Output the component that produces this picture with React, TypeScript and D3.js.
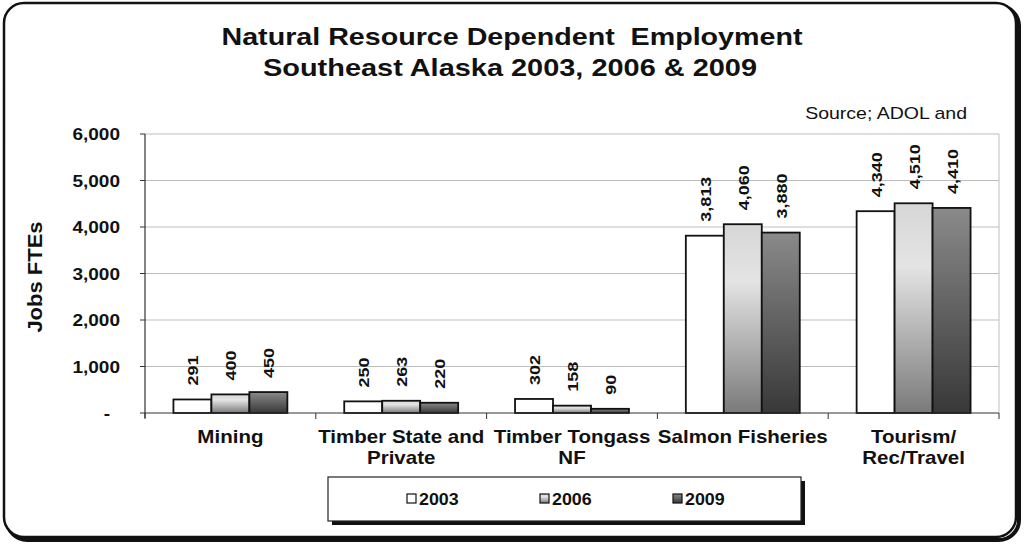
import React from "react";
import * as d3 from "d3";

const categories = [
  ["Mining"],
  ["Timber State and", "Private"],
  ["Timber Tongass", "NF"],
  ["Salmon Fisheries"],
  ["Tourism/", "Rec/Travel"],
];
const seriesNames = ["2003", "2006", "2009"];
const values2003 = [291, 250, 302, 3813, 4340];
const values2006 = [400, 263, 158, 4060, 4510];
const values2009 = [450, 220, 90, 3880, 4410];
const yTicks = [0, 1000, 2000, 3000, 4000, 5000, 6000];

const W = 1024;
const H = 544;
const font = "'Liberation Sans', Arial, sans-serif";

function SText(props: { x: number; y: number; sx?: number; rot?: number; size: number; anchor?: string; bold?: boolean; children: any }) {
  const { x, y, sx = 1, rot = 0, size, anchor = "start", bold = true, children } = props;
  return (
    <text
      transform={`translate(${x},${y}) rotate(${rot}) scale(${sx},1)`}
      textAnchor={anchor}
      fontFamily={font}
      fontWeight={bold ? "bold" : "normal"}
      fontSize={size}
      fill="#111"
      style={{ whiteSpace: "pre" }}
    >
      {children}
    </text>
  );
}

export default function App() {
  const series = [values2003, values2006, values2009];
  const left = 145, right = 999, top = 134, bottom = 413;
  const x0 = d3.scaleBand<number>().domain(d3.range(categories.length)).range([left, right]).paddingInner(0.333).paddingOuter(0.1665);
  const x1 = d3.scaleBand<number>().domain([0, 1, 2]).range([0, x0.bandwidth()]);
  const y = d3.scaleLinear().domain([0, 6000]).range([bottom, top]);
  const fills = ["#ffffff", "url(#g2006)", "url(#g2009)"];
  const fmt = d3.format(",");
  const step = (right - left) / categories.length;
  const legendX = [407, 540, 673];

  return (
    <svg width={W} height={H} style={{ position: "absolute", left: 0, top: 0 }}>
      <defs>
        <linearGradient id="g2006" x1="0" y1="0" x2="0" y2="1">
          <stop offset="0" stopColor="#d6d6d6" />
          <stop offset="0.3" stopColor="#e4e4e4" />
          <stop offset="1" stopColor="#7a7a7a" />
        </linearGradient>
        <linearGradient id="g2009" x1="0" y1="0" x2="0" y2="1">
          <stop offset="0" stopColor="#8a8a8a" />
          <stop offset="1" stopColor="#383838" />
        </linearGradient>
      </defs>
      <rect x={0} y={0} width={W} height={H} fill="#ffffff" />
      {/* frame with shadow */}
      <rect x={7} y={6} width={1012} height={534} rx={20} fill="none" stroke="#111" strokeWidth={4} />
      <rect x={4} y={3} width={1012} height={534} rx={20} fill="#fff" stroke="#111" strokeWidth={2.5} />

      <text x={512} y={45} textAnchor="middle" fontFamily={font} fontWeight="bold" fontSize={24} fill="#111"
        textLength={581} lengthAdjust="spacingAndGlyphs" style={{ whiteSpace: "pre" }}>
        {"Natural Resource Dependent  Employment"}
      </text>
      <text x={510} y={76} textAnchor="middle" fontFamily={font} fontWeight="bold" fontSize={24} fill="#111"
        textLength={494} lengthAdjust="spacingAndGlyphs">
        Southeast Alaska 2003, 2006 &amp; 2009
      </text>
      <SText x={967} y={119} sx={1.22} size={16} anchor="end" bold={false}>Source; ADOL and</SText>

      {/* gridlines */}
      {yTicks.map((t) => (
        <g key={t}>
          {t > 0 && <line x1={left} x2={right} y1={y(t)} y2={y(t)} stroke="#bdbdbd" strokeWidth={1} />}
          <line x1={left - 5} x2={left} y1={y(t)} y2={y(t)} stroke="#333" />
          <SText x={t === 0 ? 110 : 120} y={y(t) + 6} sx={1.12} size={17} anchor="end">
            {t === 0 ? "-" : fmt(t)}
          </SText>
        </g>
      ))}
      <line x1={right} x2={right} y1={top} y2={bottom} stroke="#bdbdbd" />
      <line x1={left} x2={left} y1={top} y2={bottom + 5} stroke="#333" strokeWidth={1.2} />
      <SText x={42} y={277} rot={-90} sx={1.1} size={20} anchor="middle">Jobs FTEs</SText>

      {/* bars */}
      {categories.map((c, i) => (
        <g key={i} transform={`translate(${x0(i)},0)`}>
          {series.map((s, j) => (
            <g key={j}>
              <rect x={x1(j)} y={y(s[i])} width={x1.bandwidth()} height={bottom - y(s[i])} fill={fills[j]} stroke="#111" strokeWidth={1.8} />
              <SText x={(x1(j) as number) + x1.bandwidth() / 2 + 6} y={y(s[i]) - 14} rot={-90} sx={1.2} size={15}>
                {fmt(s[i])}
              </SText>
            </g>
          ))}
        </g>
      ))}

      {/* x axis */}
      <line x1={left} x2={right} y1={bottom} y2={bottom} stroke="#333" strokeWidth={1.2} />
      {d3.range(categories.length + 1).map((i) => (
        <line key={i} x1={left + i * step} x2={left + i * step} y1={bottom} y2={bottom + 6} stroke="#333" />
      ))}
      {categories.map((c, i) =>
        c.map((line, k) => (
          <SText key={i + "-" + k} x={left + step * (i + 0.5)} y={443 + k * 21} sx={1.14} size={18} anchor="middle">
            {line}
          </SText>
        ))
      )}

      {/* legend */}
      <rect x={332} y={481} width={473} height={44} fill="#111" />
      <rect x={328} y={477} width={473} height={44} fill="#fff" stroke="#222" strokeWidth={1.2} />
      {seriesNames.map((n, j) => (
        <g key={n}>
          <rect x={legendX[j]} y={494} width={9} height={9} fill={fills[j]} stroke="#111" strokeWidth={1.2} />
          <SText x={legendX[j] + 12} y={505} sx={1.05} size={17}>{n}</SText>
        </g>
      ))}
    </svg>
  );
}
